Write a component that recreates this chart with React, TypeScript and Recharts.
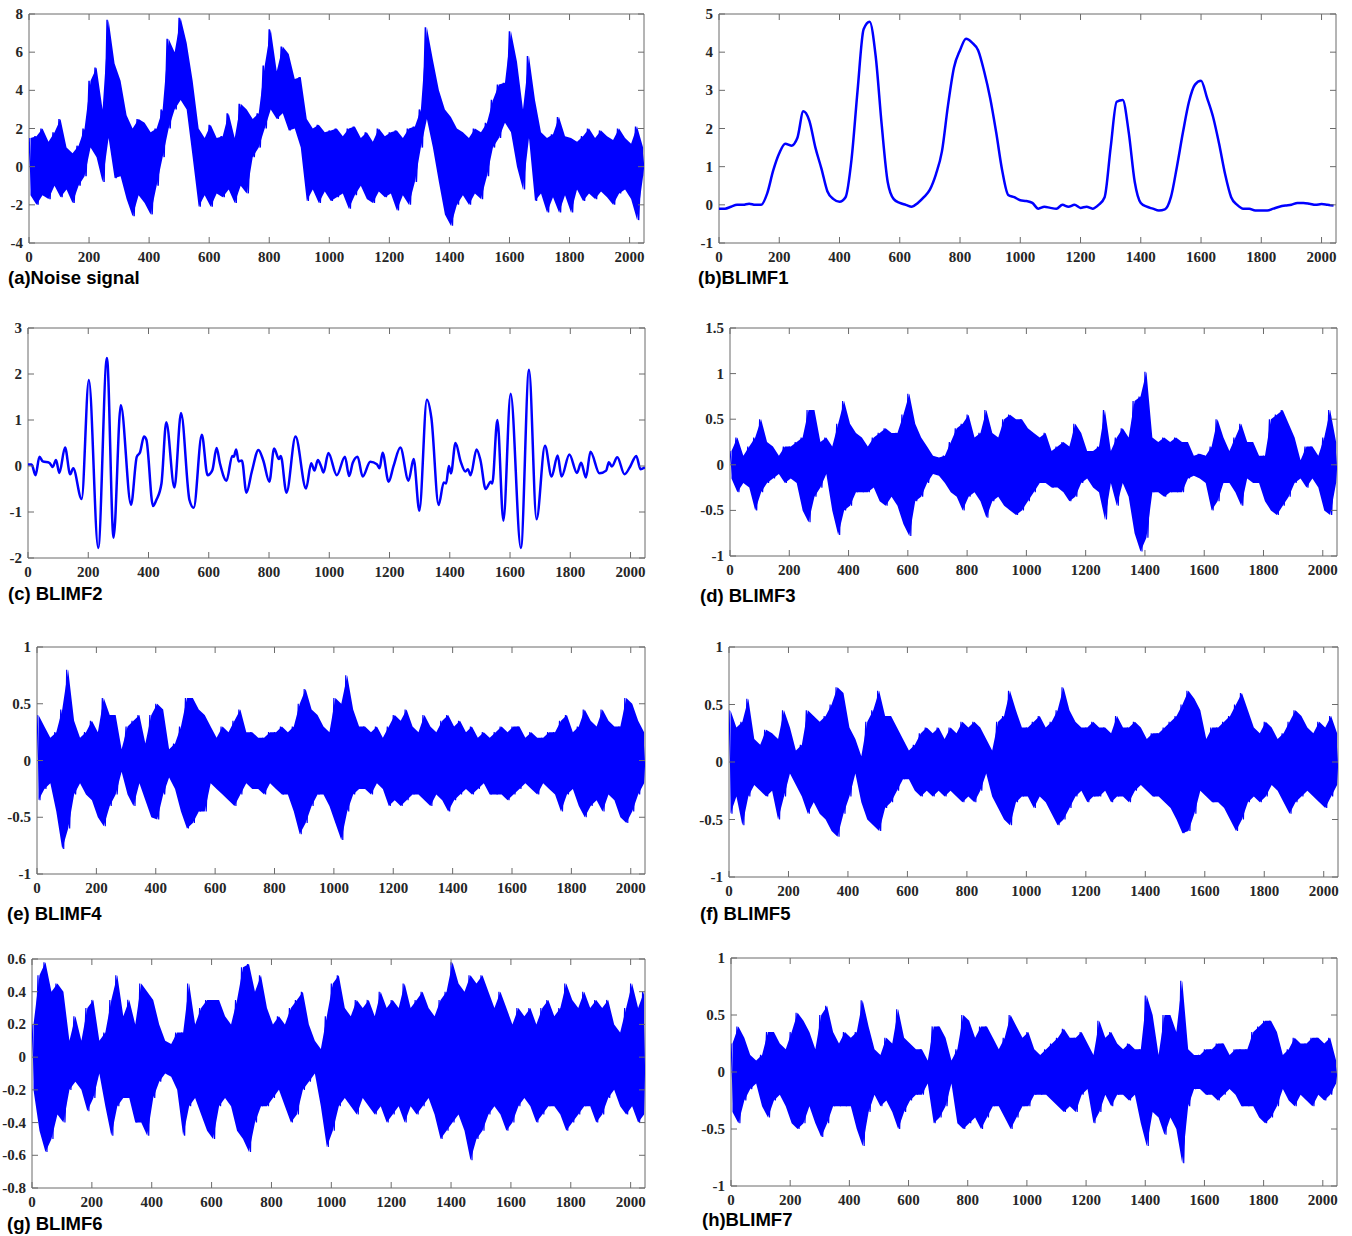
import React from "react"
import { Area, ComposedChart, Line, ReferenceArea, XAxis, YAxis } from "recharts"

// x ticks shared by every panel (sample index 0..2048)
const xTicks = [0, 200, 400, 600, 800, 1000, 1200, 1400, 1600, 1800, 2000]

// dense signals are read as upper / lower envelopes, every 20 samples
// hi at x = 20*i, lo at x = 20*i + 10
const aHi = [
  1.5, 1.6, 2.0, 1.3, 1.8, 2.5, 1.0, 0.7, 1.1, 2.0,
  4.5, 5.2, 3.0, 7.7, 5.4, 4.5, 2.7, 2.0, 2.5, 2.3,
  1.8, 2.0, 3.0, 6.7, 6.0, 7.8, 6.5, 4.5, 2.0, 1.5,
  2.2, 1.5, 1.6, 2.8, 1.5, 3.3, 3.0, 2.5, 2.8, 5.3,
  7.2, 5.0, 6.3, 5.9, 4.6, 4.7, 2.5, 2.0, 2.2, 1.8,
  1.9, 2.0, 1.6, 2.0, 2.1, 1.5, 1.8, 1.3, 2.0, 1.6,
  1.8, 1.9, 1.5, 2.0, 2.1, 3.0, 7.3, 5.6, 4.0, 3.0,
  2.6, 2.0, 1.8, 1.5, 2.0, 1.8, 2.3, 3.5, 4.3, 4.4,
  7.1, 5.5, 3.0, 5.8, 3.5, 1.8, 1.5, 1.7, 2.6, 1.6,
  1.5, 1.3, 1.6, 2.0, 1.5, 1.9, 1.6, 1.4, 2.0, 1.5,
  1.2, 2.1, 1.0,
]
const aLo = [
  -1.5, -2.0, -1.5, -1.7, -1.0, -1.6, -1.2, -1.9, -1.0, -0.5,
  1.0, 0.5, -0.8, 1.5, -0.6, -0.5, -1.7, -2.6, -1.5, -1.9,
  -2.5, -1.0, 0.5, 2.0, 3.0, 3.5, 3.0, 0.5, -2.1, -1.5,
  -2.1, -1.4, -1.6, -1.2, -1.9, -1.0, -1.4, 0.5, 1.0, 2.0,
  3.0, 2.5, 2.8, 1.9, 2.0, 1.0, -1.8, -1.2, -1.9, -1.3,
  -1.8, -1.6, -1.4, -2.2, -1.5, -1.0, -1.7, -1.9, -1.3, -1.6,
  -1.4, -2.3, -1.5, -2.0, -0.8, 1.0, 2.5, 1.0, -0.8, -2.5,
  -3.1, -2.0, -1.5, -2.0, -1.4, -1.7, -0.5, 1.0, 1.5, 2.3,
  1.8, 0.0, -1.2, 1.5, -1.8, -1.4, -2.4, -1.6, -2.4, -1.5,
  -2.4, -1.2, -1.8, -1.4, -1.7, -1.3, -1.6, -2.0, -1.4, -1.2,
  -1.7, -2.8, -0.5,
]

// BLIMF1, one value every 20 samples
const bY = [
  -0.1, -0.1, -0.05, 0, 0, 0.03, 0, 0, 0.3, 0.9,
  1.35, 1.6, 1.55, 1.75, 2.45, 2.2, 1.5, 0.95, 0.35, 0.15,
  0.08, 0.2, 1.2, 3.0, 4.6, 4.8, 3.9, 2.1, 0.6, 0.15,
  0.05, 0.0, -0.05, 0.05, 0.2, 0.4, 0.8, 1.4, 2.6, 3.6,
  4.05, 4.35, 4.25, 4.05, 3.5, 2.8, 1.9, 0.9, 0.26, 0.2,
  0.12, 0.1, 0.05, -0.1, -0.05, -0.08, -0.1, 0.0, -0.05, 0.0,
  -0.08, -0.05, -0.1, 0.0, 0.2, 1.5, 2.7, 2.75, 1.9, 0.6,
  0.05, -0.05, -0.1, -0.15, -0.12, 0.2, 1.0, 1.9, 2.7, 3.15,
  3.25, 2.8, 2.3, 1.6, 0.8, 0.2, 0.0, -0.1, -0.1, -0.15,
  -0.15, -0.15, -0.1, -0.05, -0.02, 0.0, 0.05, 0.05, 0.03, 0.0,
  0.02, 0.0, -0.02,
]

// BLIMF2, turning points
const cX = [
  0, 12, 25, 38, 49, 71, 82, 93, 104, 123, 140, 150, 178, 202, 233, 262, 284, 308, 342, 361,
  372, 385, 393, 415, 426, 443, 459, 486, 508, 536, 550, 577, 596, 612, 626, 637, 659, 678, 683, 691,
  699, 710, 725, 743, 765, 781, 801, 817, 833, 839, 858, 888, 923, 940, 951, 962, 973, 981, 997, 1025,
  1052, 1066, 1078, 1094, 1111, 1136, 1158, 1167, 1177, 1197, 1213, 1236, 1263, 1280, 1299, 1324, 1339, 1363, 1380, 1388,
  1397, 1404, 1419, 1436, 1452, 1460, 1469, 1489, 1502, 1519, 1536, 1541, 1558, 1578, 1602, 1636, 1663, 1688, 1716, 1738,
  1758, 1771, 1797, 1822, 1836, 1852, 1867, 1897, 1919, 1928, 1938, 1956, 1980, 1999, 2019, 2033, 2048,
]
const cY = [
  0.03, 0.03, -0.2, 0.2, 0.1, 0.07, -0.02, 0.13, -0.15, 0.4, -0.18, -0.05, -0.72, 1.87, -1.78, 2.35, -1.56, 1.32, -0.84, 0.2,
  0.3, 0.64, 0.57, -0.87, -0.74, -0.38, 0.95, -0.47, 1.15, -0.74, -0.91, 0.68, -0.2, -0.09, 0.39, 0.06, -0.32, 0.22, 0.2, 0.36,
  0.1, 0.12, -0.58, -0.12, 0.35, 0.12, -0.34, 0.38, 0.15, 0.22, -0.58, 0.64, -0.49, 0.06, -0.1, 0.13, -0.01, -0.14, 0.28, -0.2,
  0.2, -0.22, 0.07, 0.2, -0.23, 0.09, 0.04, -0.05, 0.29, -0.34, -0.01, 0.4, -0.32, 0.15, -0.97, 1.44, 1.04, -0.85, -0.36, -0.38,
  0.0, -0.16, 0.5, 0.1, -0.12, -0.07, -0.2, 0.36, 0.12, -0.5, -0.34, -0.38, 1.0, -1.19, 1.57, -1.78, 2.09, -1.16, 0.44, -0.23,
  0.23, -0.23, 0.25, -0.15, 0.07, -0.25, 0.31, -0.16, -0.1, 0.08, -0.01, 0.19, -0.18, -0.01, 0.22, -0.07, -0.03,
]

const dHi = [
  0.15, 0.3, 0.1, 0.2, 0.3, 0.5, 0.25, 0.2, 0.1, 0.2,
  0.2, 0.25, 0.3, 0.6, 0.6, 0.25, 0.3, 0.2, 0.45, 0.7,
  0.45, 0.35, 0.3, 0.2, 0.3, 0.35, 0.4, 0.35, 0.35, 0.55,
  0.78, 0.45, 0.3, 0.2, 0.1, 0.08, 0.1, 0.25, 0.4, 0.45,
  0.55, 0.3, 0.35, 0.6, 0.35, 0.3, 0.5, 0.55, 0.5, 0.5,
  0.4, 0.35, 0.3, 0.35, 0.15, 0.2, 0.25, 0.2, 0.45, 0.35,
  0.15, 0.15, 0.2, 0.6, 0.15, 0.3, 0.4, 0.3, 0.7, 0.75,
  1.02, 0.3, 0.25, 0.3, 0.25, 0.3, 0.25, 0.25, 0.1, 0.12,
  0.1, 0.2, 0.5, 0.3, 0.15, 0.3, 0.45, 0.25, 0.25, 0.1,
  0.1, 0.5, 0.55, 0.6, 0.45, 0.3, 0.05, 0.2, 0.2, 0.1,
  0.3, 0.6, 0.25,
]
const dLo = [
  -0.15, -0.3, -0.2, -0.25, -0.5, -0.3, -0.2, -0.15, -0.1, -0.2,
  -0.15, -0.2, -0.5, -0.63, -0.35, -0.25, -0.1, -0.5, -0.77, -0.5,
  -0.45, -0.3, -0.3, -0.3, -0.25, -0.4, -0.45, -0.35, -0.45, -0.65,
  -0.78, -0.4, -0.35, -0.2, -0.1, -0.12, -0.2, -0.3, -0.35, -0.5,
  -0.35, -0.3, -0.4, -0.58, -0.4, -0.35, -0.45, -0.5, -0.55, -0.5,
  -0.4, -0.3, -0.2, -0.2, -0.25, -0.25, -0.3, -0.4, -0.35, -0.2,
  -0.15, -0.25, -0.3, -0.6, -0.2, -0.45, -0.2, -0.35, -0.75, -0.95,
  -0.8, -0.3, -0.3, -0.35, -0.3, -0.3, -0.3, -0.15, -0.12, -0.15,
  -0.2, -0.5, -0.4, -0.2, -0.2, -0.3, -0.45, -0.15, -0.2, -0.2,
  -0.4, -0.5, -0.55, -0.45, -0.35, -0.2, -0.15, -0.25, -0.15, -0.25,
  -0.5, -0.55, -0.2,
]

const eHi = [
  0.4, 0.3, 0.2, 0.25, 0.45, 0.8, 0.35, 0.2, 0.25, 0.35,
  0.25, 0.55, 0.4, 0.4, 0.1, 0.3, 0.35, 0.4, 0.15, 0.4,
  0.5, 0.45, 0.1, 0.15, 0.3, 0.55, 0.55, 0.45, 0.4, 0.3,
  0.2, 0.3, 0.25, 0.35, 0.45, 0.25, 0.25, 0.2, 0.2, 0.25,
  0.25, 0.3, 0.25, 0.3, 0.5, 0.63, 0.45, 0.4, 0.3, 0.25,
  0.55, 0.5, 0.75, 0.45, 0.3, 0.3, 0.25, 0.3, 0.2, 0.3,
  0.4, 0.35, 0.45, 0.3, 0.25, 0.4, 0.3, 0.25, 0.35, 0.4,
  0.3, 0.35, 0.25, 0.3, 0.2, 0.25, 0.2, 0.25, 0.3, 0.25,
  0.3, 0.3, 0.2, 0.25, 0.2, 0.2, 0.25, 0.25, 0.35, 0.4,
  0.25, 0.3, 0.45, 0.35, 0.3, 0.45, 0.35, 0.3, 0.3, 0.55,
  0.5, 0.35, 0.25,
]
const eLo = [
  -0.35, -0.25, -0.2, -0.45, -0.78, -0.6, -0.3, -0.2, -0.3, -0.35,
  -0.5, -0.58, -0.4, -0.3, -0.1, -0.3, -0.4, -0.2, -0.35, -0.5,
  -0.52, -0.3, -0.15, -0.25, -0.45, -0.6, -0.55, -0.45, -0.45, -0.2,
  -0.25, -0.3, -0.35, -0.4, -0.3, -0.2, -0.25, -0.25, -0.3, -0.2,
  -0.25, -0.3, -0.3, -0.45, -0.65, -0.55, -0.4, -0.3, -0.3, -0.4,
  -0.55, -0.7, -0.45, -0.3, -0.25, -0.25, -0.3, -0.2, -0.25, -0.4,
  -0.35, -0.4, -0.35, -0.3, -0.3, -0.35, -0.4, -0.3, -0.35, -0.45,
  -0.35, -0.3, -0.25, -0.3, -0.25, -0.2, -0.3, -0.3, -0.3, -0.35,
  -0.3, -0.25, -0.2, -0.25, -0.3, -0.2, -0.25, -0.3, -0.45, -0.3,
  -0.25, -0.4, -0.5, -0.4, -0.35, -0.45, -0.3, -0.35, -0.5, -0.55,
  -0.45, -0.3, -0.2,
]

const fHi = [
  0.45, 0.3, 0.35, 0.55, 0.2, 0.15, 0.28, 0.25, 0.2, 0.45,
  0.3, 0.1, 0.15, 0.45, 0.4, 0.35, 0.4, 0.5, 0.65, 0.6,
  0.3, 0.2, 0.05, 0.35, 0.45, 0.62, 0.4, 0.4, 0.3, 0.2,
  0.1, 0.15, 0.25, 0.3, 0.25, 0.3, 0.2, 0.3, 0.25, 0.35,
  0.3, 0.35, 0.3, 0.2, 0.1, 0.35, 0.4, 0.62, 0.45, 0.3,
  0.3, 0.35, 0.4, 0.3, 0.35, 0.45, 0.65, 0.45, 0.35, 0.3,
  0.3, 0.35, 0.3, 0.3, 0.25, 0.4, 0.3, 0.3, 0.35, 0.3,
  0.2, 0.25, 0.25, 0.3, 0.35, 0.4, 0.5, 0.62, 0.55, 0.45,
  0.2, 0.3, 0.3, 0.35, 0.4, 0.5, 0.6, 0.45, 0.3, 0.25,
  0.35, 0.3, 0.2, 0.25, 0.35, 0.45, 0.4, 0.3, 0.25, 0.35,
  0.3, 0.4, 0.25,
]
const fLo = [
  -0.45, -0.3, -0.55, -0.3, -0.2, -0.25, -0.3, -0.25, -0.5, -0.3,
  -0.1, -0.2, -0.3, -0.45, -0.35, -0.45, -0.5, -0.6, -0.65, -0.45,
  -0.3, -0.1, -0.35, -0.5, -0.55, -0.6, -0.4, -0.35, -0.25, -0.15,
  -0.15, -0.25, -0.3, -0.25, -0.3, -0.25, -0.3, -0.25, -0.3, -0.35,
  -0.3, -0.35, -0.25, -0.1, -0.3, -0.4, -0.5, -0.55, -0.35, -0.3,
  -0.3, -0.4, -0.3, -0.35, -0.45, -0.55, -0.5, -0.4, -0.3, -0.25,
  -0.35, -0.3, -0.3, -0.25, -0.35, -0.3, -0.3, -0.35, -0.25, -0.2,
  -0.25, -0.3, -0.3, -0.35, -0.4, -0.5, -0.62, -0.6, -0.45, -0.25,
  -0.3, -0.35, -0.35, -0.4, -0.5, -0.6, -0.5, -0.35, -0.3, -0.35,
  -0.3, -0.2, -0.25, -0.35, -0.45, -0.35, -0.3, -0.25, -0.3, -0.35,
  -0.4, -0.3, -0.2,
]

const gHi = [
  0.2, 0.5, 0.58, 0.4, 0.45, 0.4, 0.1, 0.25, 0.1, 0.3,
  0.35, 0.1, 0.15, 0.35, 0.5, 0.25, 0.35, 0.2, 0.45, 0.4,
  0.35, 0.2, 0.1, 0.08, 0.15, 0.15, 0.45, 0.2, 0.3, 0.35,
  0.35, 0.35, 0.25, 0.2, 0.35, 0.55, 0.57, 0.4, 0.5, 0.3,
  0.2, 0.25, 0.2, 0.3, 0.35, 0.4, 0.2, 0.1, 0.05, 0.25,
  0.45, 0.5, 0.3, 0.25, 0.35, 0.3, 0.35, 0.25, 0.4, 0.3,
  0.35, 0.3, 0.45, 0.3, 0.35, 0.4, 0.3, 0.25, 0.35, 0.4,
  0.58, 0.45, 0.4, 0.5, 0.45, 0.5, 0.4, 0.3, 0.4, 0.3,
  0.2, 0.3, 0.25, 0.3, 0.2, 0.3, 0.35, 0.25, 0.3, 0.45,
  0.35, 0.3, 0.4, 0.3, 0.35, 0.3, 0.35, 0.2, 0.15, 0.3,
  0.45, 0.3, 0.4,
]
const gLo = [
  -0.2, -0.45, -0.58, -0.5, -0.35, -0.4, -0.2, -0.15, -0.2, -0.33,
  -0.25, -0.1, -0.3, -0.48, -0.3, -0.25, -0.25, -0.4, -0.4, -0.48,
  -0.25, -0.15, -0.1, -0.12, -0.2, -0.48, -0.3, -0.25, -0.35, -0.45,
  -0.5, -0.3, -0.25, -0.3, -0.45, -0.5, -0.58, -0.4, -0.3, -0.3,
  -0.25, -0.2, -0.3, -0.4, -0.35, -0.2, -0.15, -0.1, -0.3, -0.55,
  -0.45, -0.3, -0.25, -0.3, -0.35, -0.25, -0.3, -0.35, -0.3, -0.4,
  -0.35, -0.3, -0.4, -0.3, -0.35, -0.3, -0.25, -0.35, -0.5, -0.45,
  -0.4, -0.35, -0.45, -0.63, -0.5, -0.45, -0.35, -0.3, -0.35, -0.45,
  -0.4, -0.3, -0.25, -0.3, -0.4, -0.35, -0.3, -0.3, -0.35, -0.45,
  -0.4, -0.35, -0.3, -0.3, -0.4, -0.35, -0.25, -0.2, -0.3, -0.35,
  -0.3, -0.4, -0.35,
]

const hHi = [
  0.25, 0.4, 0.3, 0.15, 0.1, 0.15, 0.35, 0.35, 0.25, 0.2,
  0.35, 0.52, 0.45, 0.35, 0.2, 0.5, 0.58, 0.35, 0.25, 0.35,
  0.3, 0.35, 0.63, 0.4, 0.2, 0.15, 0.3, 0.25, 0.55, 0.3,
  0.25, 0.2, 0.2, 0.1, 0.4, 0.4, 0.3, 0.1, 0.2, 0.5,
  0.45, 0.3, 0.4, 0.4, 0.3, 0.2, 0.3, 0.5, 0.4, 0.3,
  0.35, 0.2, 0.15, 0.2, 0.25, 0.3, 0.38, 0.3, 0.3, 0.35,
  0.25, 0.15, 0.45, 0.3, 0.35, 0.25, 0.2, 0.25, 0.2, 0.2,
  0.67, 0.5, 0.15, 0.5, 0.5, 0.35, 0.8, 0.2, 0.15, 0.15,
  0.2, 0.2, 0.25, 0.25, 0.15, 0.2, 0.2, 0.2, 0.35, 0.4,
  0.45, 0.45, 0.35, 0.15, 0.2, 0.3, 0.25, 0.25, 0.3, 0.3,
  0.25, 0.3, 0.1,
]
const hLo = [
  -0.35, -0.45, -0.25, -0.15, -0.1, -0.3, -0.4, -0.25, -0.2, -0.3,
  -0.45, -0.5, -0.45, -0.3, -0.45, -0.57, -0.45, -0.3, -0.3, -0.3,
  -0.3, -0.5, -0.65, -0.35, -0.2, -0.3, -0.25, -0.35, -0.5, -0.35,
  -0.25, -0.2, -0.2, -0.1, -0.45, -0.4, -0.3, -0.1, -0.45, -0.5,
  -0.45, -0.4, -0.5, -0.4, -0.3, -0.3, -0.4, -0.5, -0.4, -0.3,
  -0.3, -0.2, -0.2, -0.2, -0.25, -0.3, -0.35, -0.3, -0.35, -0.2,
  -0.15, -0.45, -0.35, -0.2, -0.3, -0.2, -0.2, -0.25, -0.2, -0.45,
  -0.65, -0.35, -0.4, -0.55, -0.4, -0.5, -0.8, -0.3, -0.15, -0.15,
  -0.2, -0.2, -0.25, -0.2, -0.15, -0.2, -0.3, -0.3, -0.3, -0.4,
  -0.45, -0.4, -0.3, -0.15, -0.25, -0.3, -0.2, -0.25, -0.3, -0.2,
  -0.25, -0.2, -0.1,
]

const STEP = 20

type Pt = { x: number; y: number }
type BandPt = { x: number; band: [number, number] }

// trace that swings between the two envelopes
function zigzag(hi: number[], lo: number[]): Pt[] {
  const out: Pt[] = []
  hi.forEach((v, i) => {
    out.push({ x: i * STEP, y: v })
    if (i < lo.length) out.push({ x: i * STEP + STEP / 2, y: lo[i] })
  })
  return out
}

// filled band between the envelopes, placed between the hi and lo samples
function envelope(hi: number[], lo: number[]): BandPt[] {
  return hi.map((v, i) => ({ x: Math.min(i * STEP + STEP / 4, 2048), band: [lo[i], v] as [number, number] }))
}

const BLUE = "#0000ff"
const axisColor = "#6b6b6b"
const TICK_LEN = 6
const tickText = {
  fill: "#262626",
  fontSize: 15,
  fontWeight: "bold" as const,
  fontFamily: '"Liberation Serif", "Times New Roman", serif',
}

type Box = { l: number; t: number; r: number; b: number }

const padL = 50
const padT = 10
const padR = 10
const padB = 30

function Panel(props: {
  line: Pt[]
  band?: BandPt[]
  box: Box
  yDomain: [number, number]
  yTicks: number[]
  curve?: "linear" | "monotone"
  sw?: number
}) {
  const { line, band, box, yDomain, yTicks, curve = "linear", sw = 1.2 } = props
  const plotW = box.r - box.l
  const plotH = box.b - box.t
  const w = plotW + padL + padR
  const h = plotH + padT + padB
  const top = padT
  const right = padL + plotW

  // bottom ticks: label + inward marks at bottom and top of the frame
  const xTick = (p: any) => (
    <g>
      <line x1={p.x} x2={p.x} y1={p.y} y2={p.y - TICK_LEN} stroke={axisColor} />
      <line x1={p.x} x2={p.x} y1={top} y2={top + TICK_LEN} stroke={axisColor} />
      <text x={p.x} y={p.y + 19} textAnchor="middle" {...tickText}>
        {p.payload.value}
      </text>
    </g>
  )
  // left ticks: label + inward marks on left and right side
  const yTick = (p: any) => (
    <g>
      <line x1={p.x} x2={p.x + TICK_LEN} y1={p.y} y2={p.y} stroke={axisColor} />
      <line x1={right} x2={right - TICK_LEN} y1={p.y} y2={p.y} stroke={axisColor} />
      <text x={p.x - 6} y={p.y + 5} textAnchor="end" {...tickText}>
        {p.payload.value}
      </text>
    </g>
  )

  return (
    <div style={{ position: "absolute", left: box.l - padL, top: box.t - padT }}>
      <ComposedChart width={w} height={h} margin={{ top: padT, right: padR, bottom: 0, left: 0 }}>
        <XAxis
          dataKey="x"
          type="number"
          domain={[0, 2048]}
          ticks={xTicks}
          interval={0}
          allowDataOverflow
          height={padB}
          tickSize={0}
          tickMargin={0}
          axisLine={false}
          tickLine={false}
          tick={xTick}
        />
        <YAxis
          type="number"
          domain={yDomain}
          ticks={yTicks}
          interval={0}
          allowDataOverflow
          width={padL}
          tickSize={0}
          tickMargin={0}
          axisLine={false}
          tickLine={false}
          tick={yTick}
        />
        {band && (
          <Area
            data={band}
            dataKey="band"
            type="linear"
            stroke="none"
            fill={BLUE}
            fillOpacity={1}
            dot={false}
            activeDot={false}
            isAnimationActive={false}
          />
        )}
        <Line
          data={line}
          type={curve}
          dataKey="y"
          stroke={BLUE}
          strokeWidth={sw}
          dot={false}
          activeDot={false}
          isAnimationActive={false}
        />
        <ReferenceArea
          x1={0}
          x2={2048}
          y1={yDomain[0]}
          y2={yDomain[1]}
          fill="none"
          stroke={axisColor}
          strokeWidth={1}
          ifOverflow="visible"
        />
      </ComposedChart>
    </div>
  )
}

const captionStyle: React.CSSProperties = {
  position: "absolute",
  fontFamily: '"Liberation Sans", Arial, sans-serif',
  fontWeight: "bold",
  fontSize: 18.5,
  lineHeight: "18px",
  color: "#000",
  whiteSpace: "nowrap",
}

function Caption({ x, y, text }: { x: number; y: number; text: string }) {
  return <div style={{ ...captionStyle, left: x, top: y }}>{text}</div>
}

const unitTicks = [-1, -0.5, 0, 0.5, 1]

export default function App() {
  const bLine = bY.map((y, i) => ({ x: i * STEP, y }))
  const cLine = cX.map((x, i) => ({ x, y: cY[i] }))
  return (
    <div style={{ position: "absolute", left: 0, top: 0, width: 1352, height: 1236, background: "#fff" }}>
      <Panel line={zigzag(aHi, aLo)} band={envelope(aHi, aLo)} box={{ l: 29, t: 14, r: 644, b: 243 }} yDomain={[-4, 8]} yTicks={[-4, -2, 0, 2, 4, 6, 8]} sw={1.5} />
      <Caption x={8} y={269} text="(a)Noise signal" />

      <Panel line={bLine} box={{ l: 719, t: 14, r: 1336, b: 243 }} yDomain={[-1, 5]} yTicks={[-1, 0, 1, 2, 3, 4, 5]} curve="monotone" sw={2.5} />
      <Caption x={698} y={269} text="(b)BLIMF1" />

      <Panel line={cLine} box={{ l: 28, t: 328, r: 645, b: 558 }} yDomain={[-2, 3]} yTicks={[-2, -1, 0, 1, 2, 3]} curve="monotone" sw={2.5} />
      <Caption x={8} y={585} text="(c) BLIMF2" />

      <Panel line={zigzag(dHi, dLo)} band={envelope(dHi, dLo)} box={{ l: 730, t: 328, r: 1337, b: 556 }} yDomain={[-1, 1.5]} yTicks={[-1, -0.5, 0, 0.5, 1, 1.5]} />
      <Caption x={700} y={587} text="(d) BLIMF3" />

      <Panel line={zigzag(eHi, eLo)} band={envelope(eHi, eLo)} box={{ l: 37, t: 647, r: 645, b: 874 }} yDomain={[-1, 1]} yTicks={unitTicks} />
      <Caption x={7} y={905} text="(e) BLIMF4" />

      <Panel line={zigzag(fHi, fLo)} band={envelope(fHi, fLo)} box={{ l: 729, t: 647, r: 1338, b: 877 }} yDomain={[-1, 1]} yTicks={unitTicks} />
      <Caption x={700} y={905} text="(f) BLIMF5" />

      <Panel line={zigzag(gHi, gLo)} band={envelope(gHi, gLo)} box={{ l: 32, t: 959, r: 645, b: 1188 }} yDomain={[-0.8, 0.6]} yTicks={[-0.8, -0.6, -0.4, -0.2, 0, 0.2, 0.4, 0.6]} />
      <Caption x={7} y={1215} text="(g) BLIMF6" />

      <Panel line={zigzag(hHi, hLo)} band={envelope(hHi, hLo)} box={{ l: 731, t: 958, r: 1337, b: 1186 }} yDomain={[-1, 1]} yTicks={unitTicks} />
      <Caption x={702} y={1211} text="(h)BLIMF7" />
    </div>
  )
}
